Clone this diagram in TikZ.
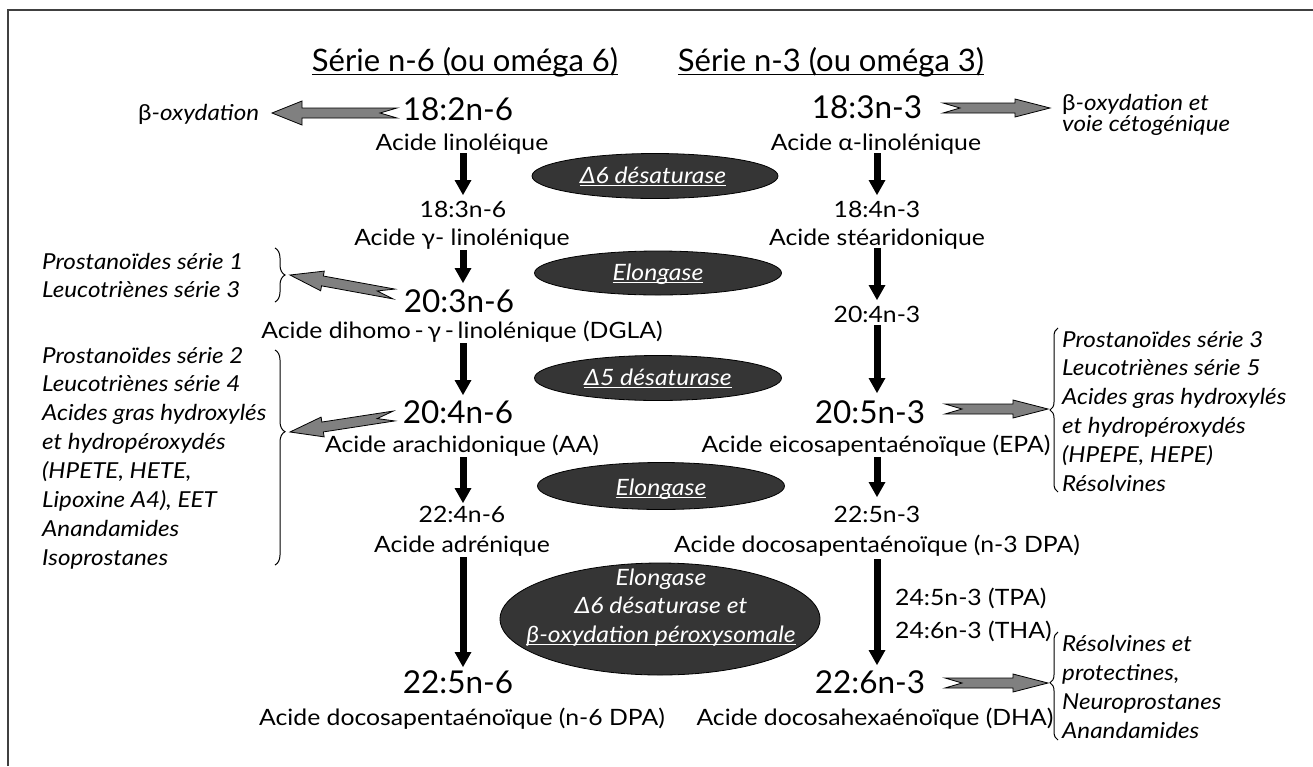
\documentclass[tikz,border=0pt]{standalone}
\usepackage{fontspec}
\setmainfont{Lato}[FakeStretch=1.1]
\newfontfamily\hfont{Lato}
\usetikzlibrary{calc,arrows.meta,shapes.geometric,decorations.pathreplacing}
\definecolor{enzfill}{HTML}{353535}
\definecolor{arrowgray}{HTML}{808080}
\definecolor{framecol}{HTML}{404040}
\newsavebox\ulbox
\newcommand\ulx[1]{\sbox\ulbox{#1}\rlap{\rule[-0.14em]{\wd\ulbox}{0.05em}}\usebox\ulbox}
% block arrow: tail, tip, half shaft, half head, head length, notch depth
\newcommand\barr[6]{%
  \path[barrow] let \p1=(#1), \p2=(#2),
    \n1={atan2((\y2)-(\y1),(\x2)-(\x1))}, \n2={veclen((\x2)-(\x1),(\y2)-(\y1))} in
    ($(\p1)+(\n1+90:#3)$) -- ($(\p1)+(\n1:\n2-#5)+(\n1+90:#3)$)
    -- ($(\p1)+(\n1:\n2-#5)+(\n1+90:#4)$) -- (\p2)
    -- ($(\p1)+(\n1:\n2-#5)+(\n1-90:#4)$) -- ($(\p1)+(\n1:\n2-#5)+(\n1-90:#3)$)
    -- ($(\p1)+(\n1-90:#3)$) -- ($(\p1)+(\n1:#6)$) -- cycle;}
\tikzset{
  lbl/.style={anchor=base, inner sep=0pt, font=\fontsize{22.5}{26}\selectfont},
  big/.style={anchor=base, inner sep=0pt, font=\hfont\fontsize{31.5}{36}\selectfont},
  hdr/.style={anchor=base, inner sep=0pt, font=\hfont\fontsize{31}{36}\selectfont},
  side/.style={anchor=base west, inner sep=0pt, font=\fontsize{22}{26}\selectfont\itshape},
  enz/.style={ellipse, fill=enzfill, draw=black, line width=0.8pt, inner sep=0pt},
  enzt/.style={anchor=base, inner sep=0pt, text=white, font=\fontsize{22.5}{26}\selectfont\itshape},
  varr/.style={line width=7pt, -{Triangle[width=17pt,length=15pt,line width=0pt]}},
  barrow/.style={draw=black, fill=arrowgray, line width=0.8pt, line join=miter},
  brc/.style={decorate, line width=1pt},
}
\begin{document}
\begin{tikzpicture}[x=1pt,y=1pt]
\useasboundingbox (0,0) rectangle (1313,-766);
\draw[line width=1.3pt, draw=framecol] (8,-766) -- (8,-10) -- (1313,-10);

% headers
\node[hdr] (hL) at (465,-71) {\ulx{Série n-6 (ou oméga 6)}};
\node[hdr] (hR) at (831,-71) {\ulx{Série n-3 (ou oméga 3)}};

% enzymes
\node[enz, minimum width=246, minimum height=45] (e1) at (655,-176) {};
\node[enzt] (e1t) at (653,-183) {\ulx{Δ6 désaturase}};
\node[enz, minimum width=247, minimum height=44] (e2) at (658,-273) {};
\node[enzt] (e2t) at (658,-280) {\ulx{Elongase}};
\node[enz, minimum width=247, minimum height=45] (e3) at (658,-378) {};
\node[enzt] (e3t) at (658,-385) {\ulx{Δ5 désaturase}};
\node[enz, minimum width=247, minimum height=47] (e4) at (661,-486) {};
\node[enzt] (e4t) at (661,-495) {\ulx{Elongase}};
\node[enz, minimum width=320, minimum height=112] (e5) at (660,-619) {};
\node[enzt] (e5a) at (661,-585) {Elongase};
\node[enzt] (e5b) at (661,-613) {Δ6 désaturase et};
\node[enzt] (e5c) at (661,-642) {\ulx{β-oxydation péroxysomale}};

% left column
\node[big] (n1) at (458,-120) {18:2n-6};
\node[lbl] (a1) at (462,-150) {Acide linoléique};
\node[lbl] (n2) at (463,-217) {18:3n-6};
\node[lbl] (a2) at (462,-245) {Acide γ- linolénique};
\node[big] (n3) at (459,-312) {20:3n-6};
\node[lbl] (a3) at (462,-338) {Acide dihomo\,-\,γ\,-\,linolénique (DGLA)};
\node[big] (n4) at (458,-423) {20:4n-6};
\node[lbl] (a4) at (462,-452) {Acide arachidonique (AA)};
\node[lbl] (n5) at (462,-522) {22:4n-6};
\node[lbl] (a5) at (462,-552) {Acide adrénique};
\node[big] (n6) at (458,-693) {22:5n-6};
\node[lbl] (a6) at (462,-725) {Acide docosapentaénoïque (n-6 DPA)};

% right column
\node[big] (m1) at (867,-118) {18:3n-3};
\node[lbl] (b1) at (876,-150) {Acide α-linolénique};
\node[lbl] (m2) at (877,-217) {18:4n-3};
\node[lbl] (b2) at (877,-245) {Acide stéaridonique};
\node[lbl] (m3) at (877,-322) {20:4n-3};
\node[big] (m4) at (870,-423) {20:5n-3};
\node[lbl] (b4) at (876,-452) {Acide eicosapentaénoïque (EPA)};
\node[lbl] (m5) at (877,-522) {22:5n-3};
\node[lbl] (b5) at (877,-552) {Acide docosapentaénoïque (n-3 DPA)};
\node[big] (m6) at (870,-693) {22:6n-3};
\node[lbl] (b6) at (875,-725) {Acide docosahexaénoïque (DHA)};
\node[lbl, anchor=base west] (t1) at (895,-605) {24:5n-3 (TPA)};
\node[lbl, anchor=base west] (t2) at (895,-638) {24:6n-3 (THA)};

% side texts
\node[side] (s0) at (138,-120) {\upshape β\itshape-oxydation};
\node[side] (r0a) at (1062,-110) {\upshape β\itshape-oxydation et};
\node[side] (r0b) at (1062,-131) {voie cétogénique};
\foreach \t [count=\i] in {Prostanoïdes série 1, Leucotriènes série 3}
  \node[side] (p\i) at (42,{-269-(\i-1)*28.8}) {\t};
\foreach \t [count=\i] in {Prostanoïdes série 2, Leucotriènes série 4, Acides gras hydroxylés, et hydropéroxydés, {(HPETE, HETE,}, {Lipoxine A4), EET}, Anandamides, Isoprostanes}
  \node[side] (q\i) at (42,{-363-(\i-1)*28.9}) {\t};
\foreach \t [count=\i] in {Prostanoïdes série 3, Leucotriènes série 5, Acides gras hydroxylés, et hydropéroxydés, {(HPEPE, HEPE)}, Résolvines}
  \node[side] (u\i) at (1062,{-347-(\i-1)*28.8}) {\t};
\foreach \t [count=\i] in {Résolvines et, {protectines,}, Neuroprostanes, Anandamides}
  \node[side] (v\i) at (1062,{-651-(\i-1)*29.3}) {\t};

% vertical arrows
\foreach \x/\a/\b [count=\k] in {463/153/195, 463/250/283, 463/343/395, 463/457/503, 463/557/667,
                                 877/153/195, 877/248/300, 877/325/393, 877/457/497, 877/559/665}{
  \coordinate (va\k) at (\x,-\a);
  \coordinate (vb\k) at (\x,-\b);
  \draw[varr] (va\k) -- (vb\k);
}

% block arrow end points
\coordinate (g1t) at (397,-113); \coordinate (g1h) at (272,-113);
\coordinate (g2t) at (943,-108); \coordinate (g2h) at (1050,-108);
\coordinate (g3t) at (394,-294); \coordinate (g3h) at (290,-275);
\coordinate (g4t) at (394,-416); \coordinate (g4h) at (290,-432);
\coordinate (g5t) at (945,-409); \coordinate (g5h) at (1048,-409);
\coordinate (g6t) at (945,-683); \coordinate (g6h) at (1048,-683);
\barr{g1t}{g1h}{5}{12}{30}{17}
\barr{g2t}{g2h}{5}{9}{35}{17}
\barr{g3t}{g3h}{5}{10}{33}{17}
\barr{g4t}{g4h}{5}{10}{33}{17}
\barr{g5t}{g5h}{5}{9}{35}{17}
\barr{g6t}{g6h}{5}{9}{35}{17}

% braces
\coordinate (k1a) at (275,-248); \coordinate (k1b) at (275,-302);
\coordinate (k2a) at (275,-350); \coordinate (k2b) at (275,-565);
\coordinate (k3a) at (1058,-492); \coordinate (k3b) at (1058,-328);
\coordinate (k4a) at (1058,-740); \coordinate (k4b) at (1058,-632);
\draw[brc, decoration={brace, amplitude=10pt}] (k1a) -- (k1b);
\draw[brc, decoration={brace, amplitude=10pt, aspect=0.38}] (k2a) -- (k2b);
\draw[brc, decoration={brace, amplitude=8pt}] (k3a) -- (k3b);
\draw[brc, decoration={brace, amplitude=8pt, aspect=0.53}] (k4a) -- (k4b);
\end{tikzpicture}
\end{document}
